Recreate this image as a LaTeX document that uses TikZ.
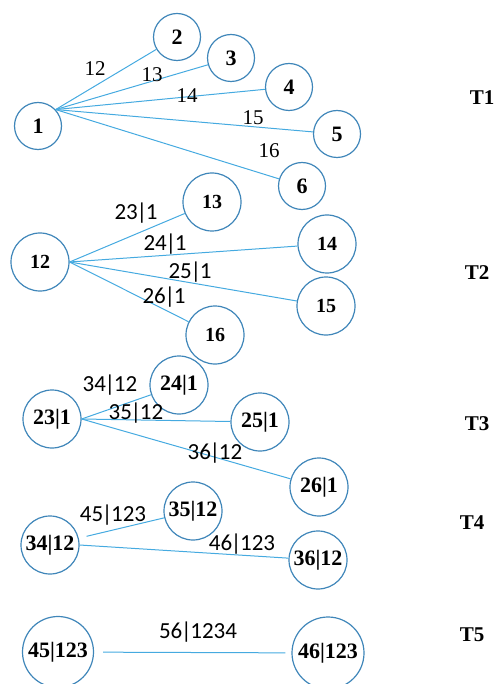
\documentclass[tikz,border=0pt]{standalone}
\usepackage{fontspec}
\setmainfont{Liberation Serif}
\newfontfamily\calib{Carlito}
\usetikzlibrary{positioning}
\definecolor{ringblue}{HTML}{3F86B9}
\definecolor{edgeblue}{HTML}{45AAE0}
\newcommand\sepbar{\kern-1.3pt|\kern-1.3pt}

\begin{document}
\begin{tikzpicture}[x=1pt,y=-1pt]
  \tikzset{
    vtx/.style={circle,draw=ringblue,line width=1.2pt,inner sep=0pt,
      font=\fontsize{22}{22}\selectfont\bfseries},
    vsmall/.style={vtx,minimum size=47pt},
    vmid/.style={vtx,minimum size=58pt},
    vbig/.style={vtx,minimum size=71pt},
    edg/.style={draw=edgeblue,line width=1pt},
    lblser/.style={inner sep=0pt,font=\fontsize{21}{21}\selectfont},
    lbl/.style={inner sep=0pt,font=\calib\fontsize{23}{23}\selectfont},
    tag/.style={inner sep=0pt,font=\fontsize{21}{21}\selectfont\bfseries}
  }
    \useasboundingbox (0,0) rectangle (495,684);

    %TREE T1
    \node[vsmall] (n1) at (38,126) {1};
    \node[vsmall] (n2) at (177,37) {2};
    \node[vsmall] (n3) at (231,58) {3};
    \node[vsmall] (n4) at (289,87) {4};
    \node[vsmall] (n5) at (337,134) {5};
    \node[vsmall] (n6) at (302,186) {6};
    \node[tag] (t1) at (482,98) {T1};
    \foreach \y/\lx/\ly in {2/95/69,3/152/75,4/187/96,5/253/118,6/269/151} {
      \draw[edg] (n1.43) -- (n\y) ;
      \node[lblser] (l1\y) at (\lx,\ly) {1\y};
    }

    %TREE T2
    \node[vmid,font=\fontsize{20}{20}\selectfont\bfseries] (n12) at (40,262) {12};
    \node[vmid,font=\fontsize{20}{20}\selectfont\bfseries] (n13) at (212,202) {13};
    \node[vmid,font=\fontsize{20}{20}\selectfont\bfseries] (n14) at (327,244) {14};
    \node[vmid,font=\fontsize{20}{20}\selectfont\bfseries] (n15) at (326,306) {15};
    \node[vmid,font=\fontsize{20}{20}\selectfont\bfseries] (n16) at (215,335) {16};
    \node[tag] (t2) at (477,273) {T2};
    \foreach \y/\lx/\ly in {3/136/213,4/165/244,5/190/272,6/164/297} {
      \draw[edg] (n12.east) -- (n1\y) ;
      \node[lbl] (l2\y) at (\lx,\ly) {2\y\sepbar1};
    }

    %TREE T3
    \node[vmid] (n231) at (52,419) {23|1};
    \node[vmid] (n241) at (179,385) {24|1};
    \node[vmid] (n251) at (260,422) {25|1};
    \node[vmid] (n261) at (319,487) {26|1};
    \node[tag] (t3) at (477,424) {T3};
    \foreach \y/\lx/\ly in {4/110/385,5/136/413,6/215/453} {
      \draw[edg] (n231.east) -- (n2\y1) ;
      \node[lbl] (l3\y) at (\lx,\ly) {3\y\sepbar12};
    }

    %TREE T4
    \node[vmid] (n3412) at (50,545) {34|12};
    \node[vmid] (n3512) at (193,511) {35|12};
    \node[vmid] (n3612) at (318,560) {36|12};
    \node[tag] (t4) at (472,523) {T4};
    \draw[edg,shorten <=8pt] (n3412) -- (n3512) ;
    \draw[edg] (n3412.east) -- (n3612) ;
    \node[lbl] (l45) at (113,515) {45\sepbar123};
    \node[lbl] (l46) at (242,544) {46\sepbar123};

    %TREE T5
    \node[vbig] (n45) at (58,652) {45|123};
    \node[vbig,minimum size=72pt] (n46) at (328,653) {46|123};
    \node[tag] (t5) at (472,635) {T5};
    \draw[edg,shorten <=9pt,shorten >=6pt] (n45) -- (n46) ;
    \node[lbl] (l56) at (198,632) {56\sepbar1234};
  \end{tikzpicture}
\end{document}
